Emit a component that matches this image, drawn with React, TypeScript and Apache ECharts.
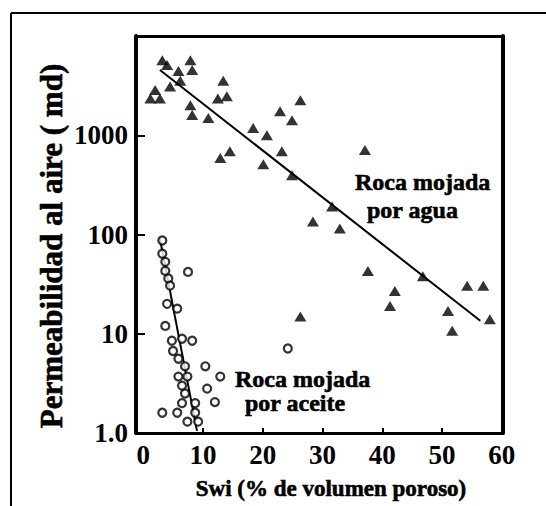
import React, { useEffect, useRef } from "react";
import * as echarts from "echarts";

// Water-wet rock (triangles): Swi (%), air permeability (md)
const waterSwi = [3.2, 4.0, 7.9, 8.2, 5.9, 4.5, 6.2, 2.0, 1.2, 2.8, 7.9, 8.2, 10.9, 13.4, 12.5, 14.0, 26.3, 22.9, 24.9, 18.4, 20.7, 23.2, 14.5, 12.9, 20.1, 24.9, 37.1, 31.6, 28.4, 32.9, 37.6, 46.8, 42.1, 41.3, 54.2, 56.9, 51.0, 58.0, 51.7, 26.3];
const waterPerm = [5700, 5100, 5700, 4550, 4450, 3100, 3540, 2850, 2350, 2350, 2000, 1600, 1490, 3540, 2350, 2470, 2250, 1750, 1420, 1180, 1000, 690, 690, 590, 510, 395, 710, 192, 135, 115, 43, 38, 27, 19, 30.5, 30.5, 17, 14, 10.7, 14.9];

// Oil-wet rock (circles)
const oilSwi = [3.2, 3.2, 3.7, 3.7, 4.2, 4.5, 7.5, 4.0, 5.7, 3.7, 4.8, 6.5, 8.2, 5.0, 5.9, 7.0, 10.4, 5.9, 7.4, 12.9, 6.5, 10.7, 7.0, 6.5, 8.7, 12.0, 3.2, 5.7, 8.7, 7.4, 9.2, 24.2];
const oilPerm = [87, 64, 53, 43, 36, 30.5, 42, 20, 17.9, 12, 8.5, 8.9, 8.5, 6.7, 5.6, 4.7, 4.7, 3.7, 3.7, 3.7, 3.0, 2.8, 2.5, 2.0, 2.0, 2.05, 1.6, 1.6, 1.6, 1.3, 1.3, 7.1];

// Trend lines
const waterTrendSwi = [2.8, 56.4];
const waterTrendPerm = [4550, 13.5];
const oilTrendSwi = [2.8, 9.0];
const oilTrendPerm = [91, 1.05];

// Axis labels
const xLabelValues = [0, 10, 20, 30, 40, 50, 60];
const xTickValues = [10, 20, 30, 40, 50];

const xTitle = "Swi (% de volumen poroso)";
const yTitle = "Permeabilidad al aire ( md)";
const waterNote = ["Roca mojada", "por agua"];
const oilNote = ["Roca mojada", "por aceite"];

const FONT = '"Liberation Serif", "DejaVu Serif", serif';

const zip = (a: number[], b: number[]) => a.map((v, i) => [v, b[i]]);

export default function App() {
  const ref = useRef<HTMLDivElement>(null);
  useEffect(() => {
    if (!ref.current) return;
    const chart = echarts.init(ref.current, undefined, { renderer: "svg" });
    const textStyle = (size: number) => ({
      fontFamily: FONT,
      fontWeight: "bold" as const,
      fontSize: size,
      fill: "#000",
      stroke: "#000",
      lineWidth: 0.6,
    });
    const X_MIN = -1.2;
    const X_MAX = 60.2;
    const frameAxis = {
      axisLine: { show: true, onZero: false, lineStyle: { color: "#000", width: 3 } },
      axisTick: { show: false },
      axisLabel: { show: false },
      splitLine: { show: false },
    };
    chart.setOption({
      animation: false,
      backgroundColor: "#fff",
      grid: {
        left: 136,
        right: 43,
        top: 36,
        bottom: 73,
      },
      xAxis: [
        {
          type: "value",
          min: X_MIN,
          max: X_MAX,
          axisLine: { show: true, onZero: false, lineStyle: { color: "#000", width: 3 } },
          axisTick: {
            show: true,
            inside: true,
            length: 5,
            lineStyle: { color: "#000", width: 2 },
            customValues: xTickValues,
          },
          axisLabel: {
            customValues: xLabelValues,
            color: "#000",
            fontFamily: FONT,
            fontWeight: "bold",
            fontSize: 27,
            margin: 8,
          },
          splitLine: { show: false },
        },
        { type: "value", position: "top", min: X_MIN, max: X_MAX, ...frameAxis },
      ],
      yAxis: [
        {
          type: "log",
          logBase: 10,
          min: 1,
          max: 10000,
          axisLine: { show: true, onZero: false, lineStyle: { color: "#000", width: 4 } },
          axisTick: {
            show: true,
            inside: true,
            length: 9,
            lineStyle: { color: "#000", width: 2 },
          },
          axisLabel: {
            color: "#000",
            fontFamily: FONT,
            fontWeight: "bold",
            fontSize: 27,
            margin: 8,
            formatter: (v: number) => (v === 1 ? "1.0" : v >= 10000 ? "" : String(v)),
          },
          splitLine: { show: false },
        },
        {
          type: "log",
          logBase: 10,
          min: 1,
          max: 10000,
          position: "right",
          ...frameAxis,
          axisLine: { show: true, onZero: false, lineStyle: { color: "#000", width: 4 } },
        },
      ],
      series: [
        {
          type: "line",
          data: zip(waterTrendSwi, waterTrendPerm),
          symbol: "none",
          lineStyle: { color: "#000", width: 2 },
          z: 2,
        },
        {
          type: "line",
          data: zip(oilTrendSwi, oilTrendPerm),
          symbol: "none",
          lineStyle: { color: "#000", width: 2 },
          z: 2,
        },
        {
          type: "scatter",
          data: zip(waterSwi, waterPerm),
          symbol: "triangle",
          symbolSize: [12, 10],
          itemStyle: { color: "#000" },
          z: 3,
        },
        {
          type: "scatter",
          data: zip(oilSwi, oilPerm),
          symbol: "circle",
          symbolSize: 8,
          itemStyle: { color: "#fff", borderColor: "#000", borderWidth: 2.2 },
          z: 3,
        },
      ],
      graphic: [
        { type: "line", shape: { x1: 11, y1: 13, x2: 546, y2: 13 }, style: { stroke: "#000", lineWidth: 2 } },
        { type: "line", shape: { x1: 11, y1: 13, x2: 11, y2: 506 }, style: { stroke: "#000", lineWidth: 2 } },
        {
          type: "text",
          x: 51,
          y: 246,
          rotation: Math.PI / 2,
          style: { ...textStyle(31), text: yTitle, textAlign: "center", textVerticalAlign: "middle", align: "center", verticalAlign: "middle" },
        },
        {
          type: "text",
          x: 331,
          y: 488,
          style: { ...textStyle(23), text: xTitle, textAlign: "center", textVerticalAlign: "middle", align: "center", verticalAlign: "middle" },
        },
        {
          type: "text",
          x: 355,
          y: 182,
          style: { ...textStyle(24), text: waterNote[0], textAlign: "left", textVerticalAlign: "middle", align: "left", verticalAlign: "middle" },
        },
        {
          type: "text",
          x: 367,
          y: 210,
          style: { ...textStyle(24), text: waterNote[1], textAlign: "left", textVerticalAlign: "middle", align: "left", verticalAlign: "middle" },
        },
        {
          type: "text",
          x: 235,
          y: 379,
          style: { ...textStyle(24), text: oilNote[0], textAlign: "left", textVerticalAlign: "middle", align: "left", verticalAlign: "middle" },
        },
        {
          type: "text",
          x: 245,
          y: 403,
          style: { ...textStyle(24), text: oilNote[1], textAlign: "left", textVerticalAlign: "middle", align: "left", verticalAlign: "middle" },
        },
      ],
    });
    return () => chart.dispose();
  }, []);
  return (
    <div
      ref={ref}
      style={{ position: "fixed", left: 0, top: 0, width: 546, height: 506, background: "#fff" }}
    />
  );
}
